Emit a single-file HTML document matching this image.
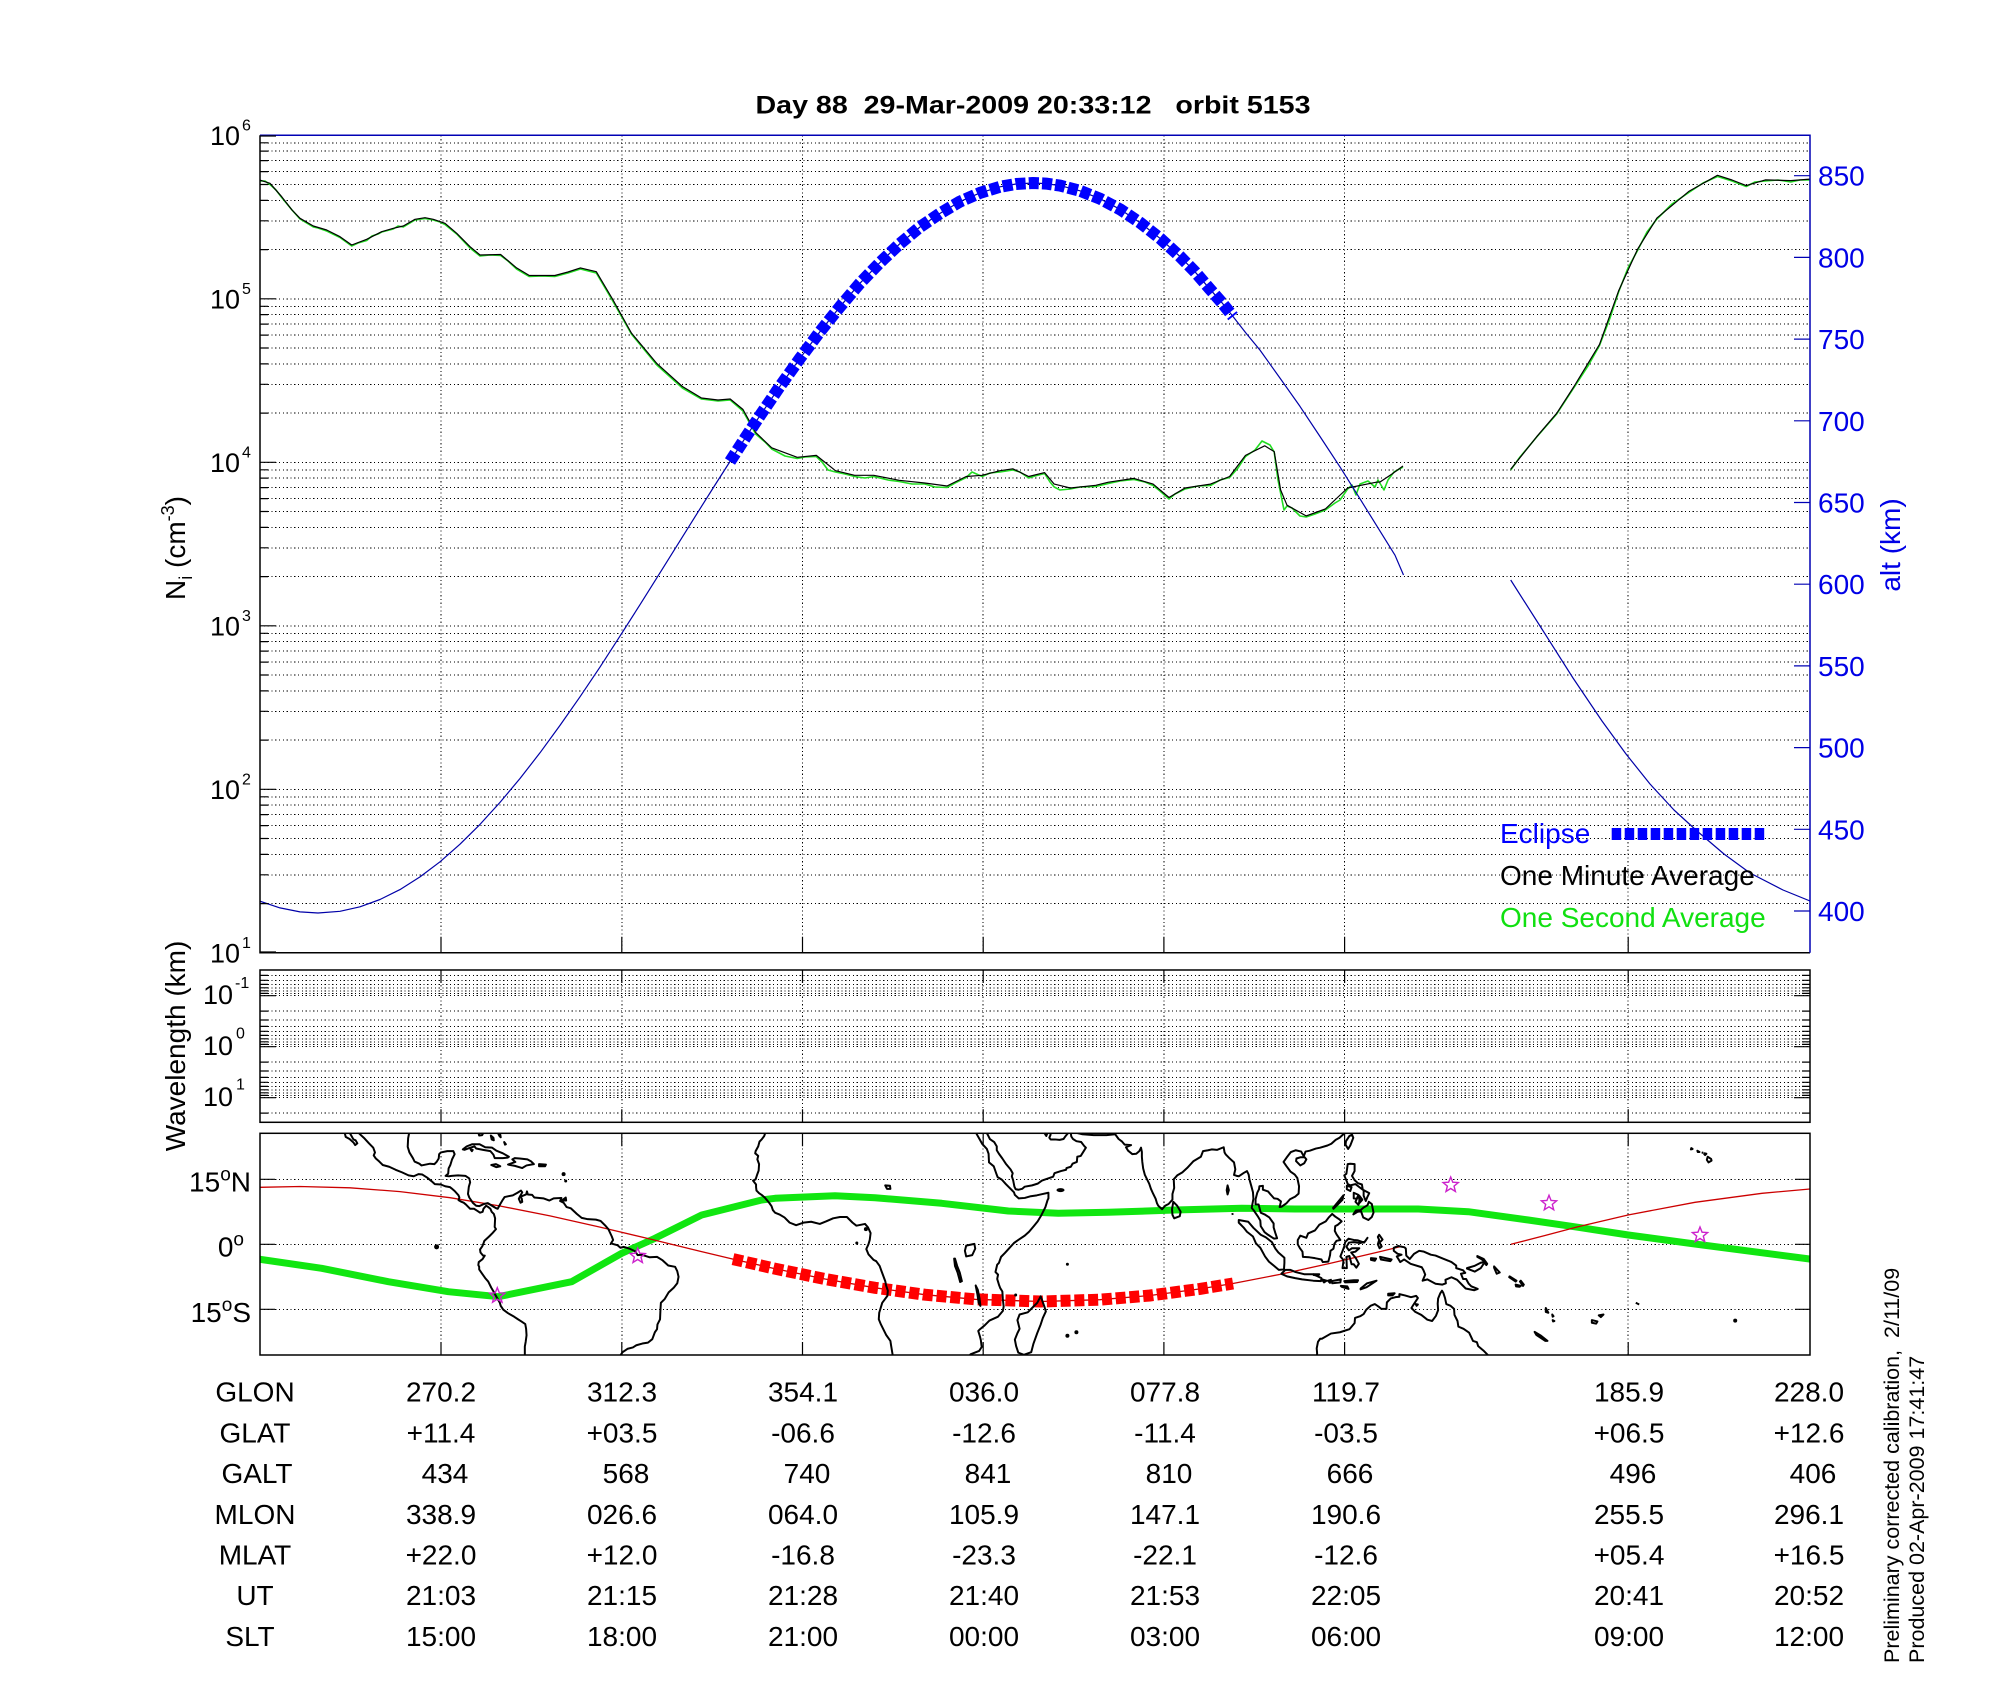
<!DOCTYPE html>
<html><head><meta charset="utf-8"><title>Day 88 orbit 5153</title>
<style>html,body{margin:0;padding:0;background:#fff}svg{display:block}</style></head>
<body>
<svg xmlns="http://www.w3.org/2000/svg" width="2000" height="1700" viewBox="0 0 2000 1700" font-family="'Liberation Sans', Arial, Helvetica, sans-serif">
<defs>
<clipPath id="mapclip"><rect x="260" y="1133.3" width="1550" height="221.7"/></clipPath>
<clipPath id="topclip"><rect x="260" y="135" width="1550" height="818"/></clipPath>
<path id="star" d="M0,-8 L2.06,-2.83 L7.61,-2.47 L3.33,1.08 L4.7,6.47 L0,3.5 L-4.7,6.47 L-3.33,1.08 L-7.61,-2.47 L-2.06,-2.83 Z" fill="none" stroke="#cc22cc" stroke-width="1.4"/>
</defs>
<rect x="0" y="0" width="2000" height="1700" fill="#fff"/>

<!-- Title -->
<text x="1033" y="113.5" font-size="25" font-weight="bold" text-anchor="middle" textLength="555" lengthAdjust="spacingAndGlyphs" style="white-space:pre">Day 88  29-Mar-2009 20:33:12   orbit 5153</text>

<!-- ========== TOP PLOT ========== -->
<g stroke="#000" stroke-width="1" stroke-dasharray="1.2 2.6" fill="none" shape-rendering="crispEdges">
<path d="M260 903.6H1810M260 874.8H1810M260 854.4H1810M260 838.5H1810M260 825.6H1810M260 814.6H1810M260 805.1H1810M260 796.8H1810M260 789.3H1810
M260 740.1H1810M260 711.3H1810M260 690.9H1810M260 675H1810M260 662.1H1810M260 651.1H1810M260 641.6H1810M260 633.3H1810M260 625.8H1810
M260 576.6H1810M260 547.8H1810M260 527.4H1810M260 511.5H1810M260 498.6H1810M260 487.6H1810M260 478.1H1810M260 469.8H1810M260 462.3H1810
M260 413.1H1810M260 384.3H1810M260 363.9H1810M260 348H1810M260 335.1H1810M260 324.1H1810M260 314.6H1810M260 306.3H1810M260 298.8H1810
M260 249.6H1810M260 220.8H1810M260 200.4H1810M260 184.5H1810M260 171.6H1810M260 160.6H1810M260 151.1H1810M260 142.8H1810"/>
<path d="M441 135.3V952.8M621.8 135.3V952.8M802.5 135.3V952.8M983.2 135.3V952.8M1163.9 135.3V952.8M1344.6 135.3V952.8M1628.2 135.3V952.8"/>
</g>

<g clip-path="url(#topclip)" fill="none" stroke-linejoin="round">
<!-- one second average (green) -->
<path stroke="#22dd22" stroke-width="1.6" d="M259.7,181 L265,181 L270,184.5 L276,190 L281.7,197.5 L292,210 L300,219 L313.3,227 L318,228 L326.7,231 L340,237.5 L351.7,246 L358,243 L366.7,240.5 L372,236 L378,234 L381.7,232 L393.3,229 L398,226 L403.3,227 L415,220 L425,218.5 L433.3,220 L440,222 L445,224.5 L456.7,234 L470,248 L480,256 L490,255 L500.6,255.5 L508,261 L516.6,269 L529.3,276.5 L542,276 L554.8,276.5 L568,273 L580.4,269 L596.3,273 L612.2,300 L631.4,334 L656.9,365 L682.4,388 L701.5,399 L718,401 L730.2,400 L743,411 L755.7,434 L765,442 L771.7,449 L785,456 L797.2,458.5 L805,457 L816.3,456.5 L822,462 L828,470 L835.5,472 L845,474 L854.6,476.5 L865,478 L873.7,476.5 L888,480 L899.2,481.5 L912,484 L924.7,484 L935,487 L947,487.5 L955,483 L966.2,477.5 L972,472 L982.1,476.5 L990,473 L1000,472 L1012.8,470 L1020,472 L1028.7,478 L1035,476 L1044.6,473.5 L1050,482 L1054.2,487 L1060,490 L1070.2,489 L1080,487 L1095.7,486.5 L1108.4,483.5 L1120,481 L1133.9,479.5 L1145,482 L1153.1,485.5 L1160,491 L1169,499 L1175,494 L1185,489 L1198,486 L1210.5,485.5 L1220,480 L1229.6,477.5 L1238,468 L1245.5,456.5 L1255,450 L1262,441 L1266,443 L1270,445 L1274.2,452 L1278,480 L1281,495 L1284,510 L1287,506 L1292,508 L1300,516 L1306.1,517 L1315,514 L1325.3,510 L1335,503 L1340,500 L1347.6,489 L1352,485 L1356,495 L1360,484 L1368,481 L1375,487 L1378,480 L1384,490 L1388,480 L1394,472 L1403,467
M1510.7,470 L1520,457 L1536.7,437 L1556.7,414 L1574,387.5 L1588,366 L1599.5,345.5 L1610,318 L1618.6,292 L1628,268 L1637.8,250 L1647,232 L1656.9,219 L1672,204 L1688.8,192.5 L1703,183 L1717.5,176.5 L1732,181 L1746.2,186.5 L1755,182 L1765.3,181 L1778,180 L1790.8,182 L1800,180 L1810,180"/>
<!-- one minute average (black) -->
<path stroke="#000" stroke-width="1.2" d="M259.7,180 L270,183.3 L281.7,196.7 L292,210 L300,218.3 L313.3,226 L326.7,230 L340,236.7 L351.7,245 L366.7,239.3 L381.7,231.7 L393.3,228.3 L403.3,226 L415,219.3 L425,217.7 L433.3,219.3 L445,223.3 L456.7,233.3 L470,246.7 L480,255 L500.6,254.5 L516.6,267.9 L529.3,275.5 L554.8,275.5 L568,272 L580.4,267.9 L596.3,271.7 L612.2,298.5 L631.4,333 L656.9,363.6 L682.4,386.5 L701.5,398 L718,400 L730.2,399 L743,409.5 L755.7,432.5 L771.7,447.8 L797.2,457.3 L816.3,455.4 L835.5,470.7 L854.6,475.3 L873.7,475.3 L899.2,480.3 L924.7,483 L947,486 L966.2,476.5 L982.1,475.3 L1000,470.7 L1012.8,468.8 L1028.7,476.5 L1044.6,472.6 L1054.2,484.1 L1070.2,488 L1095.7,485.3 L1108.4,482.2 L1133.9,478.4 L1153.1,484.1 L1169,497.5 L1185,488 L1210.5,484.1 L1229.6,476.5 L1245.5,455.4 L1264.7,445.8 L1274.2,451.6 L1280.6,489.9 L1287,505.2 L1306.1,515.9 L1325.3,509 L1347.6,488 L1376.3,482.2 L1380,482 L1392,474 L1403,466
M1510.7,469.3 L1536.7,436.7 L1556.7,413.3 L1574,386.5 L1599.5,344.4 L1618.6,290.9 L1637.8,248.8 L1656.9,218.1 L1688.8,191.4 L1717.5,175.3 L1732,180 L1746.2,185.6 L1765.3,179.9 L1790.8,180.6 L1810,179.1"/>
<!-- altitude (blue thin) -->
<path stroke="#0000a8" stroke-width="1.2" d="M260,901.2 L280,907.9 L300,911.9 L318,913 L340,911.3 L360,906.8 L380,899.5 L400,889.6 L420,876.9 L440,861.8 L460,844.2 L480,824.4 L500,802.4 L520,778.5 L540,752.8 L560,725.4 L580,696.8 L600,667.1 L620,636.1 L640,604.7 L660,572.8 L680,540.8 L700,508.8 L715,485 L730,461.5 L745,438.3 L760,415.6 L780,386.2 L800,358.3 L820,331.6 L840,306.7 L860,283.2 L880,262.5 L900,243.6 L920,227 L940,213.4 L960,201.6 L980,192.9 L1000,186.8 L1016,184 L1033,183 L1046,183.6 L1060,185.6 L1080,190.8 L1100,198.7 L1120,209.3 L1140,222.6 L1160,238.3 L1180,256.5 L1195,271.8 L1210,289.2 L1222,302.8 L1233,316.5 L1246,333.1 L1260,350.1 L1280,378.1 L1300,406.4 L1320,436.5 L1340,466.9 L1360,498.8 L1380,531.1 L1395,555.2 L1403.5,575
M1510.7,580 L1540,626 L1573,678 L1602,721 L1626,754 L1650,784 L1674,810 L1697,831 L1724,854 L1750,873 L1783,890 L1810,901"/>
<!-- eclipse -->
<path stroke="#0000ff" stroke-width="12" stroke-dasharray="10 3.2" d="M730,461.5 L745,438.3 L760,415.6 L780,386.2 L800,358.3 L820,331.6 L840,306.7 L860,283.2 L880,262.5 L900,243.6 L920,227 L940,213.4 L960,201.6 L980,192.9 L1000,186.8 L1016,184 L1033,183 L1046,183.6 L1060,185.6 L1080,190.8 L1100,198.7 L1120,209.3 L1140,222.6 L1160,238.3 L1180,256.5 L1195,271.8 L1210,289.2 L1222,302.8 L1233,316.5"/>
</g>

<!-- top plot axes -->
<g fill="none" stroke-width="1.5">
<path stroke="#000" d="M260,135.3 V952.8 H1810"/>
<path stroke="#0000b4" d="M260,135.3 H1810 V952.8"/>
</g>
<g stroke="#000" stroke-width="1.2" fill="none">
<path d="M260 298.8h16M260 462.3h16M260 625.8h16M260 789.3h16M260 136h16M260 952h16"/>
<path d="M260 903.6h8M260 874.8h8M260 854.4h8M260 838.5h8M260 825.6h8M260 814.6h8M260 805.1h8M260 796.8h8
M260 740.1h8M260 711.3h8M260 690.9h8M260 675h8M260 662.1h8M260 651.1h8M260 641.6h8M260 633.3h8
M260 576.6h8M260 547.8h8M260 527.4h8M260 511.5h8M260 498.6h8M260 487.6h8M260 478.1h8M260 469.8h8
M260 413.1h8M260 384.3h8M260 363.9h8M260 348h8M260 335.1h8M260 324.1h8M260 314.6h8M260 306.3h8
M260 249.6h8M260 220.8h8M260 200.4h8M260 184.5h8M260 171.6h8M260 160.6h8M260 151.1h8M260 142.8h8"/>
<path d="M441 952.8v-16M621.8 952.8v-16M802.5 952.8v-16M983.2 952.8v-16M1163.9 952.8v-16M1344.6 952.8v-16M1628.2 952.8v-16"/>
</g>
<g stroke="#0000b4" stroke-width="1.2">
<path d="M1810 911h-16M1810 829.3h-16M1810 747.6h-16M1810 665.9h-16M1810 584.2h-16M1810 502.5h-16M1810 420.8h-16M1810 339.1h-16M1810 257.4h-16M1810 175.7h-16"/>
</g>

<!-- left tick labels -->
<g font-size="27" text-anchor="end" fill="#000">
<text x="240" y="145">10</text><text x="240" y="308.3">10</text><text x="240" y="471.8">10</text>
<text x="240" y="635.3">10</text><text x="240" y="798.8">10</text><text x="240" y="962.3">10</text>
</g>
<g font-size="16" fill="#000">
<text x="242" y="130.5">6</text><text x="242" y="294">5</text><text x="242" y="457.5">4</text>
<text x="242" y="621">3</text><text x="242" y="784.5">2</text><text x="242" y="948">1</text>
</g>

<!-- right tick labels -->
<g font-size="28" fill="#0000e6">
<text x="1818" y="921">400</text><text x="1818" y="839.3">450</text><text x="1818" y="757.6">500</text>
<text x="1818" y="675.9">550</text><text x="1818" y="594.2">600</text><text x="1818" y="512.5">650</text>
<text x="1818" y="430.8">700</text><text x="1818" y="349.1">750</text><text x="1818" y="267.4">800</text>
<text x="1818" y="185.7">850</text>
</g>

<!-- axis labels -->
<text transform="translate(185,548) rotate(-90)" text-anchor="middle" font-size="28">N<tspan font-size="18" dy="7">i</tspan><tspan dy="-7"> (cm</tspan><tspan font-size="18" dy="-11">-3</tspan><tspan dy="11">)</tspan></text>
<text transform="translate(1900,545) rotate(-90)" text-anchor="middle" font-size="28" fill="#0000e6">alt (km)</text>

<!-- legend -->
<text x="1500" y="843" font-size="28" fill="#0000ff">Eclipse</text>
<path d="M1611.7,834 H1765" stroke="#0000ff" stroke-width="12" stroke-dasharray="9.5 3.5"/>
<text x="1500" y="885" font-size="28" fill="#000">One Minute Average</text>
<text x="1500" y="927" font-size="28" fill="#11e011">One Second Average</text>

<!-- ========== WAVELENGTH PANEL ========== -->
<g stroke="#000" stroke-width="1" stroke-dasharray="1.2 2.6" fill="none" shape-rendering="crispEdges">
<path d="M260 975.4H1810M260 980.3H1810M260 984.4H1810M260 987.8H1810M260 990.8H1810M260 993.4H1810M260 995.7H1810
M260 1011.1H1810M260 1020H1810M260 1026.4H1810M260 1031.3H1810M260 1035.4H1810M260 1038.8H1810M260 1041.8H1810M260 1044.4H1810M260 1046.7H1810
M260 1062.1H1810M260 1071H1810M260 1077.4H1810M260 1082.3H1810M260 1086.4H1810M260 1089.8H1810M260 1092.8H1810M260 1095.4H1810M260 1097.7H1810M260 1113.1H1810"/>
<path d="M441 970V1122.3M621.8 970V1122.3M802.5 970V1122.3M983.2 970V1122.3M1163.9 970V1122.3M1344.6 970V1122.3M1628.2 970V1122.3"/>
</g>
<rect x="260" y="970" width="1550" height="152.3" fill="none" stroke="#000" stroke-width="1.5"/>
<g stroke="#000" stroke-width="1.2" fill="none">
<path d="M260 995.7h16M260 1046.7h16M260 1097.7h16M1810 995.7h-16M1810 1046.7h-16M1810 1097.7h-16"/>
<path d="M260 975.4h8M260 980.3h8M260 984.4h8M260 987.8h8M260 990.8h8M260 993.4h8M260 1011.1h8M260 1020h8M260 1026.4h8M260 1031.3h8M260 1035.4h8M260 1038.8h8M260 1041.8h8M260 1044.4h8M260 1062.1h8M260 1071h8M260 1077.4h8M260 1082.3h8M260 1086.4h8M260 1089.8h8M260 1092.8h8M260 1095.4h8M260 1113.1h8
M1810 975.4h-8M1810 980.3h-8M1810 984.4h-8M1810 987.8h-8M1810 990.8h-8M1810 993.4h-8M1810 1011.1h-8M1810 1020h-8M1810 1026.4h-8M1810 1031.3h-8M1810 1035.4h-8M1810 1038.8h-8M1810 1041.8h-8M1810 1044.4h-8M1810 1062.1h-8M1810 1071h-8M1810 1077.4h-8M1810 1082.3h-8M1810 1086.4h-8M1810 1089.8h-8M1810 1092.8h-8M1810 1095.4h-8M1810 1113.1h-8"/>
<path d="M441 970v13M621.8 970v13M802.5 970v13M983.2 970v13M1163.9 970v13M1344.6 970v13M1628.2 970v13
M441 1122.3v-13M621.8 1122.3v-13M802.5 1122.3v-13M983.2 1122.3v-13M1163.9 1122.3v-13M1344.6 1122.3v-13M1628.2 1122.3v-13"/>
</g>
<g font-size="27" text-anchor="end"><text x="233" y="1004.2">10</text><text x="233" y="1055.2">10</text><text x="233" y="1106.2">10</text></g>
<g font-size="16"><text x="235" y="988">-1</text><text x="236" y="1038.7">0</text><text x="236" y="1089.7">1</text></g>
<text transform="translate(185,1046) rotate(-90)" text-anchor="middle" font-size="28">Wavelength (km)</text>

<!-- ========== MAP PANEL ========== -->
<g stroke="#000" stroke-width="1" stroke-dasharray="1.2 2.6" fill="none" shape-rendering="crispEdges">
<path d="M260 1179.3H1810M260 1244.3H1810M260 1309.3H1810"/>
<path d="M441 1133.3V1355M621.8 1133.3V1355M802.5 1133.3V1355M983.2 1133.3V1355M1163.9 1133.3V1355M1344.6 1133.3V1355M1628.2 1133.3V1355"/>
</g>

<g clip-path="url(#mapclip)">
<!-- magnetic equator -->
<path fill="none" stroke="#11e611" stroke-width="7" stroke-linejoin="round" d="M258,1259 L321.7,1268.3 L388.3,1281.7 L448.3,1291.7 L498.3,1296.7 L571.7,1281.7 L621.7,1253.3 L655,1238.3 L701.7,1215 L761.7,1200 L775,1198.3 L835,1195.7 L875,1197.7 L941.7,1203.3 L1008.3,1211 L1058.3,1213.3 L1108.3,1212.3 L1175,1210 L1241.7,1208.3 L1295,1209 L1418.3,1209 L1468.3,1211.7 L1528.3,1220 L1578.3,1227.3 L1628.3,1235 L1695,1244 L1812,1259.3"/>
<!-- ground track -->
<path fill="none" stroke="#cc0000" stroke-width="1.3" d="M260,1187.3 L300,1186.5 L350,1187.8 L400,1191.6 L450,1197.7 L500,1206 L550,1215.9 L600,1227.1 L650,1239 L700,1251.2 L733,1259.1 L775,1268.7 L825,1279 L875,1287.8 L925,1294.7 L975,1299.3 L1041,1301.5 L1100,1299.7 L1150,1295.5 L1200,1288.9 L1233,1283.5 L1280,1274.4 L1330,1263.4 L1380,1251.6 L1402,1246.3
M1511,1244.3 L1545,1235.5 L1578,1226.7 L1628,1215 L1695,1202.3 L1762,1193.3 L1810,1189"/>
<path fill="none" stroke="#ff0000" stroke-width="12" stroke-dasharray="10 3.8" d="M733,1259.1 L775,1268.7 L825,1279 L875,1287.8 L925,1294.7 L975,1299.3 L1041,1301.5 L1100,1299.7 L1150,1295.5 L1200,1288.9 L1233,1283.5"/>

<!-- coastlines (lon,lat) -->
<g transform="translate(828.4,1244.3) scale(4.306,-4.333)" fill="none" stroke="#000" stroke-width="0.46" stroke-linejoin="round">
<polyline points="-112.8,26.5 -112.3,25.6 -112.1,24.8 -111.2,24.3 -110.3,23.5 -109.9,22.9 -109.4,23.3 -109.8,24 -110.3,24.2 -110.7,24.9 -111.1,25.6 -111.4,26.5"/>
<polyline points="-109.4,26.5 -108.9,25.5 -107.9,24.6 -106.7,23.3 -105.7,22.3 -105.3,21.2 -105.6,20.5 -105.1,19.8 -104.3,19.1 -103.5,18.3 -102,17.9 -100.5,17.2 -99,16.6 -97.5,15.9 -96.3,15.7 -95.2,16.2 -94.3,16.1 -93.2,15.4 -92.2,14.6 -91.4,13.9 -90,13.8 -89,13.4 -87.9,13.2 -87.5,12.9 -86.8,12.3 -85.9,11.3 -85.7,10.8 -85.9,10.2 -85.2,9.8 -84.7,9.6 -84.2,9.2 -83.6,8.6 -83.2,8.2 -82.3,8.2 -81.5,7.7 -80.9,7.3 -80.3,7.5 -80.1,8.2 -79.5,8.9 -79,8.6 -78.5,8.2 -78.2,7.5 -77.7,7 -77.4,6 -77.5,4 -77.2,3.5 -78,2.6 -78.8,1.8 -79.9,0.8 -80.1,0.2 -80.4,-0.5 -80.9,-1.2 -80.8,-1.9 -80.2,-2.6 -79.8,-2.6 -80.3,-3.4 -81.2,-4.1 -81.3,-4.8 -81.1,-5.2 -81.1,-5.8 -80.4,-6.8 -79.7,-7.8 -79,-8.6 -78.3,-10 -77.7,-11 -77.1,-12.1 -76.3,-13.5 -76.1,-14.2 -75.5,-15.1 -74.4,-15.9 -73,-16.7 -72.1,-17.3 -71.3,-17.8 -70.4,-18.4 -70.2,-19.5 -70.1,-21 -70.3,-22.5 -70.5,-23.6 -70.5,-25.5 -70.7,-26.5"/>
<polyline points="-97.2,26.5 -97.6,24.5 -97.7,22.5 -97.3,21.2 -96.5,19.9 -96.1,19.1 -95,18.6 -94.5,18.2 -93.5,18.4 -92.5,18.6 -91.5,18.5 -91,19 -90.5,19.8 -90.4,20.8 -90,21.2 -88.5,21.5 -87.1,21.5 -86.8,20.8 -87.4,19.6 -87.8,18.3 -88.2,17.5 -88.3,16.3 -88.9,15.8 -88.1,15.7 -87.5,15.8 -86,15.9 -84.3,15.8 -83.4,15.2 -83.2,14.3 -83.5,13.3 -83.7,11.6 -83.4,10.8 -82.6,9.6 -81.8,8.9 -81.1,8.8 -80,9.3 -79.1,9.5 -77.8,8.7 -77.3,8.4 -76.8,8.2 -76.2,9.3 -75.6,10.3 -75.2,10.9 -74.3,11.1 -73.3,11.3 -72.2,11.9 -71.4,12.4 -71.1,12 -71.6,11.1 -71.9,10.5 -71.5,9.6 -71.1,9.8 -71.2,10.5 -71.5,11 -70.2,11.5 -70,12.2 -69.8,11.5 -68.8,11.4 -68.3,10.8 -66.2,10.6 -64.8,10.1 -63.8,10.6 -62,10.7 -62.3,10 -61.5,9.6 -60.8,8.6 -59.8,8.3 -58.4,7 -57.3,6.1 -55.9,5.8 -54,5.7 -52.9,5.4 -51.7,4.2 -51.1,3.5 -50.3,1.8 -50,1 -50.5,0.2 -49,-0.2 -48.3,-0.8 -47.5,-0.6 -46.2,-1 -44.9,-1.6 -44.3,-2.5 -43.4,-2.4 -41.5,-3 -39.8,-2.9 -38.5,-3.7 -37.2,-4.9 -35.6,-5.2 -35.1,-6.2 -34.8,-7.5 -35.1,-9 -35.9,-10 -37.1,-11.1 -38,-12.6 -38.9,-13.5 -39,-15 -39.1,-17.3 -39.7,-18.5 -39.8,-19.6 -40.3,-20.3 -40.9,-21.9 -41.9,-22.7 -43.2,-22.9 -44.6,-23.3 -45.4,-23.8 -46.6,-24.1 -47.8,-24.9 -48.5,-25.9 -48.6,-26.5"/>
<polyline points="-80.1,26.5 -80.1,25.8 -80.4,25.2 -81.1,25.1 -81.3,25.8 -81.7,26.5"/>
<polygon points="-84.9,21.9 -84,22.6 -82.7,23.1 -81,23.1 -79.7,22.4 -78.1,22.3 -77.1,21.6 -75.6,21 -74.2,20.2 -74.5,20 -75.6,19.9 -77.5,19.9 -77.8,20.7 -78.5,21.5 -80.2,21.8 -81.8,22.1 -82.2,22.6 -83.4,22.2 -84.5,21.8"/>
<polygon points="-83.1,21.9 -82.6,21.8 -82.8,21.5"/>
<polygon points="-74.4,18.4 -72.8,18.1 -71.1,17.6 -70.1,18.2 -68.4,18.5 -69,19.1 -69.9,19.6 -71.7,19.8 -72.8,19.9 -73.4,19.6 -72.7,19"/>
<polygon points="-78.3,18.3 -77.2,18.5 -76.2,18 -77.1,17.8"/>
<polygon points="-67.2,18.5 -65.6,18.4 -65.8,18 -67.2,18"/>
<polygon points="-78.4,25.1 -77.8,24.6 -77.7,24 -78.2,24.2"/>
<polygon points="-75.3,23.6 -74.9,23.1 -75.1,23"/>
<polygon points="-76.7,25.6 -76.2,25.3 -76.1,24.7 -76.4,25"/>
<polygon points="-61.9,10.1 -61,10.8 -60.9,10.1"/>
<polyline points="-14.4,26.5 -14.9,25 -15.5,24.2 -16,23.7 -16.3,22.6 -16.9,21.5 -17,21 -16.3,20.4 -16.5,19.6 -16.1,18.5 -16.2,17 -16.5,16.2 -16.9,15 -17.5,14.7 -16.8,13.8 -16.8,13.2 -16.7,12.4 -16.1,11.8 -15.5,11.4 -14.7,10.7 -13.7,9.5 -13.2,8.8 -12.9,7.9 -12.4,7.3 -11.4,6.9 -10.2,6.2 -9,5 -7.5,4.4 -5.8,5 -4,5.2 -2,4.7 -0.5,5.3 1.1,6 2.7,6.3 4.3,6.3 5.6,5 6.5,4.3 7.5,4.5 8.5,4.7 9.2,3.9 9.8,2.6 9.6,1 9.3,0 8.8,-1.1 9.3,-2.3 10.5,-3.6 11.1,-3.9 11.9,-5 12.3,-6.1 13.2,-8.5 13.4,-9.5 13.8,-10.7 13.7,-11.9 12.5,-13.5 11.8,-15.8 11.7,-17.3 12.2,-18.5 13.4,-20.9 14.4,-22.3 14.5,-23 14.9,-25.4 15.1,-26.5"/>
<polyline points="33.6,26.5 34.4,25.5 35.2,24.1 35.7,23.2 36.8,22 37.2,20.9 37.3,18.9 38.4,18 39,16.3 39.3,15.5 40.3,14.9 41.2,13.9 42.3,12.8 43.1,12 43.3,11.4 44.2,10.6 45.6,10.7 47,11.1 48.4,11.3 49.7,11.6 51.1,11.9 51.1,10.6 50.9,10.2 50.4,8.6 49.5,6.8 48.6,5.3 47.7,4.2 46.6,2.9 45.6,2 44.1,1 43.1,0.3 42,-0.9 41,-2 40.1,-2.9 39.6,-4.3 39.2,-4.7 38.8,-6.4 39.4,-7 39.2,-8 39.6,-9.3 39.9,-10.1 40.4,-10.9 40.5,-12.5 40.7,-14.4 40.5,-15.4 39.4,-16.7 37.4,-17.6 36.3,-18.7 35.2,-19.6 34.8,-20 35.2,-21.3 35.4,-22.1 35.6,-23.7 35,-24.6 33,-25.4 32.6,-25.9 32.9,-26.5"/>
<polyline points="36.2,26.5 36.6,26 37.1,25.1 37.5,24.3 38.5,23.6 39.1,22.6 39.1,21.7 39.6,20.9 40.4,19.8 41.2,18.6 42.3,17.3 42.8,16.4 42.6,15.7 42.9,14.8 43.2,13.3 43.5,12.7 44.2,12.6 45,12.8 45.6,13.3 47.3,13.6 48.6,14 49.6,14.7 52.2,15.6 52.5,16.4 54,16.9 55.2,17.2 55.3,17.6 56.3,17.9 56.7,18.6 57.7,19 57.8,20.2 58.6,20.4 59.8,22.3 59.4,22.7 58.7,23.6 57.6,23.8 56.8,24.3 56.4,24.9 56.3,25.6 56.4,26.3 56.1,26.1 55.6,25.6 55.1,25 54.6,24.3 53.7,24.1 52.6,24.2 51.6,24.2 51.3,24.6 51.6,25.3 51.5,25.9 51.2,26.1 50.8,25.5 50.6,25 50.2,25.6 50,26.5"/>
<polyline points="56.8,26.9 57.3,25.8 59,25.4 61.6,25.2 64.6,25.2 66.6,25.4 67.4,24.3 68.2,23.7 68.8,23 70.3,22.9 69.1,22.4 69.6,21.6 70.6,20.8 71.5,20.9 72.2,21.5 72.6,22.3 72.8,21.3 72.8,20.2 72.9,19 73.1,17.5 73.5,16 74,15 74.5,14 74.9,12.8 75.4,11.7 76,10.5 76.3,9.5 76.6,8.9 77.5,8.1 78.2,8.9 79,9.3 79.9,10.3 79.9,11.6 80.3,13 80.2,15 81,15.9 82.2,16.6 83.3,17.6 84.8,19.2 86.5,20.2 87,21.5 88.2,21.7 89,21.9 90.3,21.8 91.8,22.4 92,21.2 92.3,20.7 93.1,19.9 94.2,18.9 94.5,17.3 94.2,16 94.8,15.8 95.3,15.7 96.5,16.5 97.2,16.9 97.6,16.1 97.8,14.9 98.2,13.5 98.6,12 98.7,10.5 98.3,8.4 98.8,7.8 99.7,6.5 100.3,5.5 100.4,4.2 101.3,2.8 102.1,2.2 103.5,1.3 104.2,1.4 103.8,2.6 103.4,3.9 103.4,4.8 102.4,6.2 101.3,6.9 100.4,7.3 99.9,9.2 99.2,9.2 99.2,10.4 99.6,11.9 100,12.7 100.1,13.4 100.9,13.5 100.9,12.6 102.1,12.2 102.6,11.6 103.5,10.6 104.3,10.5 105.1,9.9 104.8,8.6 105.3,8.7 106.4,9.5 107.2,10.4 108.4,11 109.2,11.7 109.3,13.4 108.9,15.3 108.3,16.1 107.3,16.8 106.4,18 105.7,19 106.4,20 107.4,21.3 108.5,21.7 109.8,21.4 110.4,20.3 110.8,21.4 111.8,21.6 113.2,22.1 114.2,22.3 115.9,22.8 116.8,23.2 117.8,24.1 118.7,24.6 119.6,25.4 120,26.5"/>
<polygon points="108.6,19.2 109.6,18.2 110.5,18.7 111,19.6 110.6,20.1 109.7,20.1 108.7,19.8"/>
<polygon points="120.1,23 120.7,22 121.2,22.8 121.9,24.6 121.6,25.3 121,25 120.2,23.8"/>
<polygon points="79.8,8.1 80.1,9.8 81,8.9 81.8,7.5 81.6,6.5 80.3,6 79.9,6.8"/>
<polygon points="49.3,-12 50.2,-14.5 50.5,-15.5 49.8,-17 49.3,-18.5 48.5,-20.5 47.6,-23 47.1,-24.9 45.4,-25.5 44.1,-25 43.6,-23.5 43.3,-22 43.9,-20.5 44.4,-19.5 43.9,-17.5 44.4,-16.2 46.3,-15.7 47.5,-14.5 48.5,-13.5"/>
<polygon points="32,-0.3 33.9,0.1 34.1,-1 33.4,-2.5 32,-2.8 31.7,-1.5"/>
<polygon points="29.2,-3.3 29.4,-5 30,-6.5 30.6,-8.7 31,-8.5 30.5,-6.5 29.9,-5 29.4,-3.3"/>
<polygon points="34.2,-9.5 34.6,-11.5 34.9,-13.5 35.3,-14.2 35.1,-12.5 34.7,-10.5"/>
<polygon points="13.2,13.6 14.3,13.5 14.4,12.8 13.6,12.8"/>
<polygon points="95.3,5.6 97.5,5.2 98.7,3.8 100.4,2.2 101.6,1.6 103,0.5 103.8,-1 104.5,-1.9 105.9,-3.1 105.9,-4.3 105.8,-5.8 104.6,-5.9 103.4,-4.9 102.3,-4 101.4,-2.8 100.3,-0.8 99.3,0.2 98.6,1.8 97.2,2.9 96.4,3.9 95.3,5"/>
<polygon points="105.2,-6.8 106.1,-5.9 107.3,-5.9 108.5,-6.4 110.5,-6.9 112.6,-6.9 114.5,-7.8 114.4,-8.5 112.6,-8.4 110,-8.1 108.4,-7.8 106.5,-7.4 105.4,-6.9"/>
<polygon points="112.7,-6.9 114,-6.9 113.8,-7.2 112.7,-7.1"/>
<polygon points="114.6,-8.1 115.7,-8.4 115.1,-8.8"/>
<polygon points="116,-8.4 116.7,-8.2 116.5,-8.9"/>
<polygon points="116.9,-8.5 119,-8.1 118.9,-8.8 117,-9"/>
<polygon points="119.8,-8.5 122,-8.3 123,-8.3 122.8,-8.7 120,-8.8"/>
<polygon points="119,-9.6 120.5,-9.7 120.8,-10.3 119.2,-9.8"/>
<polygon points="123.6,-10.2 125.1,-9 127.3,-8.4 126.5,-8.9 125,-9.9 123.6,-10.4"/>
<polygon points="109.6,2 111,1.5 111.4,2.5 113,3.2 114,4.5 115.5,5.3 116.2,6.2 117,7 117.7,6.4 118.6,5.8 119.2,5.3 118.3,4.5 117.7,4.2 117.6,3.1 118,2.3 118.9,1 118,0.8 117.5,0.1 117.3,-1 116.6,-1.5 116.5,-2.5 116.1,-4 114.8,-4.1 114.5,-3.5 113,-3.2 111.7,-3 110.2,-2.9 110.1,-1.7 109.5,-0.9 109,0 109,1"/>
<polygon points="119.4,-5.5 119.6,-4 119.5,-3.5 118.9,-2.8 119.3,-1.8 119.8,-0.5 120,0.5 120.8,1.3 122,1 123,0.9 124.4,0.4 125.2,1.5 124.6,0.6 123.5,0.3 122,0.5 120.9,0.4 120.3,-0.6 120.9,-1.4 121.6,-0.9 123.3,-0.9 122.4,-1.7 121.4,-1.9 122.5,-3.2 123.2,-4.5 122.6,-5.4 122,-4.6 121.5,-4.6 121,-2.7 120.3,-2.9 120.4,-5.5"/>
<polygon points="119.8,15.9 120.4,14.5 120.6,13.9 121.2,13.6 122.4,13.9 123.3,13.2 124.1,12.6 123.9,13.8 123,14.1 122.2,14.8 121.6,15.8 122.2,16.9 122.2,18.5 121.2,18.6 120.6,18.5 120.3,16.3"/>
<polygon points="121.9,6.9 122.5,7.8 123.6,7.9 124.3,8.5 125.2,9 125.5,9.8 126.2,9.3 126.6,7.3 126.2,6.3 125.4,5.6 124.2,6.2 123.7,7.6 122.9,7.5"/>
<polygon points="124.3,12.5 125.6,11.8 125.2,11 124.8,10 124.3,11.2"/>
<polygon points="122,11.9 123.1,11.4 122.7,10.5 122,10.6"/>
<polygon points="122.9,10.9 123.5,10.5 123.1,9.1 122.4,9.8"/>
<polygon points="123.3,11.2 124,10.3 123.3,9.5"/>
<polygon points="120.4,13.5 121.5,13.2 121.2,12.3 120.4,12.7"/>
<polygon points="117.2,8.4 119.6,11.3 119.4,10.3 117.3,8.2"/>
<polygon points="127.9,2.2 128.7,1.1 128,0.4 128.5,-0.5 128,-0.9 127.6,0 127.9,1 127.6,1.7"/>
<polygon points="128.1,-2.9 130.8,-3.5 130.5,-3.9 128.3,-3.5"/>
<polygon points="126,-3.2 127.2,-3.3 126.9,-3.8 126,-3.6"/>
<polygon points="131.3,-0.8 132.3,-0.4 133.8,-0.7 134.1,-1 134.2,-2.6 135,-3.4 136,-2.2 137.2,-1.5 138.3,-1.7 139.9,-2.4 141,-2.6 142.7,-3.3 144,-3.8 144.7,-4.1 145.8,-4.9 145.8,-5.5 147.4,-6 147.9,-6.6 146.9,-6.8 147.4,-8 148.1,-8 148.7,-9.1 149.3,-9.7 150.8,-10.3 150,-10.6 148,-10.2 146,-8.2 144.7,-7.6 143.3,-8.2 143.4,-9 142.6,-9.3 141,-9.1 139.1,-8.1 138,-8.4 138.6,-7 138.2,-6 137.8,-5.3 135.2,-4.5 133.7,-3.5 132.8,-4.1 132,-2.8 133.1,-2.4 132.2,-2.2 131.3,-1.5"/>
<polygon points="148.3,-5.5 150,-5 151.6,-4.2 152.3,-4.3 151.5,-5.5 150.1,-6.3 148.3,-5.6"/>
<polygon points="150.7,-2.7 152.2,-3.4 153,-4.5 152.8,-4.8 151.8,-3.5 150.7,-2.9"/>
<polygon points="154.6,-5.1 155.9,-6.5 155.2,-6.8 154.6,-5.4"/>
<polygon points="159.6,-9.3 160.8,-9.6 160.5,-9.8 159.7,-9.7"/>
<polygon points="160.8,-8.4 161.5,-9.3 161.3,-9.6 160.6,-8.6"/>
<polygon points="158.2,-7.4 159.8,-8.4 159.6,-8.6 158.1,-7.6"/>
<polygon points="166.6,-14.7 167.2,-15.8 166.6,-15.6"/>
<polygon points="168.1,-16.2 168.4,-16.6 168.2,-16.7"/>
<polygon points="168.2,-17.5 168.6,-17.7 168.3,-17.8"/>
<polygon points="164,-20.2 165.5,-21.1 167,-22.3 166.5,-22.3 164.4,-20.9"/>
<polygon points="177.3,-17.5 178.6,-17.8 178.3,-18.3 177.3,-18.1"/>
<polygon points="178.9,-16.4 180,-16.2 179.4,-16.8"/>
<polygon points="204.2,20.2 205,19.7 205.1,19.3 204.4,18.9 204,19.5"/>
<polygon points="203.5,21 203.9,20.9 203.6,20.6 203.4,20.8"/>
<polyline points="202.8,21.2 203.2,21.1"/>
<polygon points="201.8,21.6 202.3,21.3 201.9,21.3"/>
<polygon points="200.4,22.2 200.7,22 200.3,21.9"/>
<polyline points="187.5,-13.5 188.3,-13.9"/>
<polygon points="92.7,13.6 93,12.5 92.7,11.5 92.5,12.5"/>
<polyline points="93.8,7.2 93.9,6.8"/>
<polyline points="113.3,-26.5 113.5,-25.2 113.4,-24 113.7,-22.5 114.2,-21.8 114.6,-21.8 116.7,-20.6 118.8,-20.3 121,-19.6 122.2,-18.2 122.3,-17 123.5,-16.6 124.3,-16.1 124.9,-15.1 125.9,-14.2 126.9,-13.8 127.8,-14.4 128.4,-14.9 129.6,-14.9 129.7,-13.4 130.6,-12.5 131.7,-12.2 132.6,-12.1 132.6,-11.5 133.9,-11.8 135.3,-12.2 136.5,-11.9 136.9,-12.4 136.3,-13.3 135.9,-13.9 135.4,-14.7 136.3,-15.6 137.7,-16.3 139.1,-17.4 140.2,-17.7 141.1,-16.5 141.6,-15.2 141.5,-13.7 141.6,-12.5 142.1,-11.3 142.5,-10.7 142.8,-11.2 143.2,-12.4 143.5,-13.8 144.5,-14.2 145.3,-14.9 145.4,-16.3 146.1,-17.7 146.3,-19 147.5,-19.5 148.8,-20.4 149.7,-22.3 150.6,-22.6 150.9,-23.5 152.1,-24.5 153.1,-25.5 153.2,-26.5"/>
<polygon points="130,-11.4 131.5,-11.3 131,-11.8 130,-11.8"/>
<polygon points="136.4,-13.8 136.9,-13.9 136.6,-14.2"/>
</g>
<g fill="#000">
<circle cx="436.6" cy="1246.9" r="2.5"/>
<circle cx="563.6" cy="1174.1" r="2"/>
<circle cx="565.7" cy="1181" r="1.5"/>
<ellipse cx="1060.5" cy="1190.1" rx="4" ry="2"/>
<circle cx="1067.4" cy="1335.7" r="2"/>
<circle cx="1076.4" cy="1332.3" r="2"/>
<circle cx="1015.7" cy="1295" r="1.5"/>
<circle cx="1067.4" cy="1264.2" r="1.5"/>
<circle cx="1735.2" cy="1320.6" r="2"/>
<circle cx="856.8" cy="1243" r="1.5"/>
<circle cx="865.9" cy="1229.1" r="2"/>
</g>
<!-- stations -->
<use href="#star" x="497.3" y="1295.7"/>
<use href="#star" x="637.7" y="1256"/>
<use href="#star" x="1450.7" y="1185"/>
<use href="#star" x="1549" y="1203.3"/>
<use href="#star" x="1700" y="1235"/>
</g>

<rect x="260" y="1133.3" width="1550" height="221.7" fill="none" stroke="#000" stroke-width="1.5"/>
<g stroke="#000" stroke-width="1.2" fill="none">
<path d="M260 1179.3h15M260 1244.3h15M260 1309.3h15M1810 1179.3h-15M1810 1244.3h-15M1810 1309.3h-15"/>
<path d="M441 1133.3v13M621.8 1133.3v13M802.5 1133.3v13M983.2 1133.3v13M1163.9 1133.3v13M1344.6 1133.3v13M1628.2 1133.3v13
M441 1355v-13M621.8 1355v-13M802.5 1355v-13M983.2 1355v-13M1163.9 1355v-13M1344.6 1355v-13M1628.2 1355v-13"/>
</g>
<g font-size="28" text-anchor="end">
<text x="251" y="1191.3">15<tspan font-size="19" dy="-11">o</tspan><tspan dy="11">N</tspan></text>
<text x="244" y="1256.6">0<tspan font-size="19" dy="-11">o</tspan></text>
<text x="251" y="1322">15<tspan font-size="19" dy="-11">o</tspan><tspan dy="11">S</tspan></text>
</g>

<!-- ========== TABLE ========== -->
<g font-size="28" text-anchor="middle" fill="#000">
<text x="255" y="1401.7">GLON</text><text x="255" y="1442.4">GLAT</text><text x="257" y="1483.1">GALT</text>
<text x="255" y="1523.8">MLON</text><text x="255" y="1564.5">MLAT</text><text x="255" y="1605.2">UT</text><text x="250" y="1645.9">SLT</text>

<text x="441" y="1401.7">270.2</text><text x="441" y="1442.4">+11.4</text><text x="445" y="1483.1">434</text><text x="441" y="1523.8">338.9</text><text x="441" y="1564.5">+22.0</text><text x="441" y="1605.2">21:03</text><text x="441" y="1645.9">15:00</text>

<text x="622" y="1401.7">312.3</text><text x="622" y="1442.4">+03.5</text><text x="626" y="1483.1">568</text><text x="622" y="1523.8">026.6</text><text x="622" y="1564.5">+12.0</text><text x="622" y="1605.2">21:15</text><text x="622" y="1645.9">18:00</text>

<text x="803" y="1401.7">354.1</text><text x="803" y="1442.4">-06.6</text><text x="807" y="1483.1">740</text><text x="803" y="1523.8">064.0</text><text x="803" y="1564.5">-16.8</text><text x="803" y="1605.2">21:28</text><text x="803" y="1645.9">21:00</text>

<text x="984" y="1401.7">036.0</text><text x="984" y="1442.4">-12.6</text><text x="988" y="1483.1">841</text><text x="984" y="1523.8">105.9</text><text x="984" y="1564.5">-23.3</text><text x="984" y="1605.2">21:40</text><text x="984" y="1645.9">00:00</text>

<text x="1165" y="1401.7">077.8</text><text x="1165" y="1442.4">-11.4</text><text x="1169" y="1483.1">810</text><text x="1165" y="1523.8">147.1</text><text x="1165" y="1564.5">-22.1</text><text x="1165" y="1605.2">21:53</text><text x="1165" y="1645.9">03:00</text>

<text x="1346" y="1401.7">119.7</text><text x="1346" y="1442.4">-03.5</text><text x="1350" y="1483.1">666</text><text x="1346" y="1523.8">190.6</text><text x="1346" y="1564.5">-12.6</text><text x="1346" y="1605.2">22:05</text><text x="1346" y="1645.9">06:00</text>

<text x="1629" y="1401.7">185.9</text><text x="1629" y="1442.4">+06.5</text><text x="1633" y="1483.1">496</text><text x="1629" y="1523.8">255.5</text><text x="1629" y="1564.5">+05.4</text><text x="1629" y="1605.2">20:41</text><text x="1629" y="1645.9">09:00</text>

<text x="1809" y="1401.7">228.0</text><text x="1809" y="1442.4">+12.6</text><text x="1813" y="1483.1">406</text><text x="1809" y="1523.8">296.1</text><text x="1809" y="1564.5">+16.5</text><text x="1809" y="1605.2">20:52</text><text x="1809" y="1645.9">12:00</text>
</g>

<!-- side annotations -->
<text transform="translate(1899,1663) rotate(-90)" font-size="21.5" style="white-space:pre">Preliminary corrected calibration,  2/11/09</text>
<text transform="translate(1924,1663) rotate(-90)" font-size="21.5">Produced 02-Apr-2009 17:41:47</text>
</svg>
</body></html>
